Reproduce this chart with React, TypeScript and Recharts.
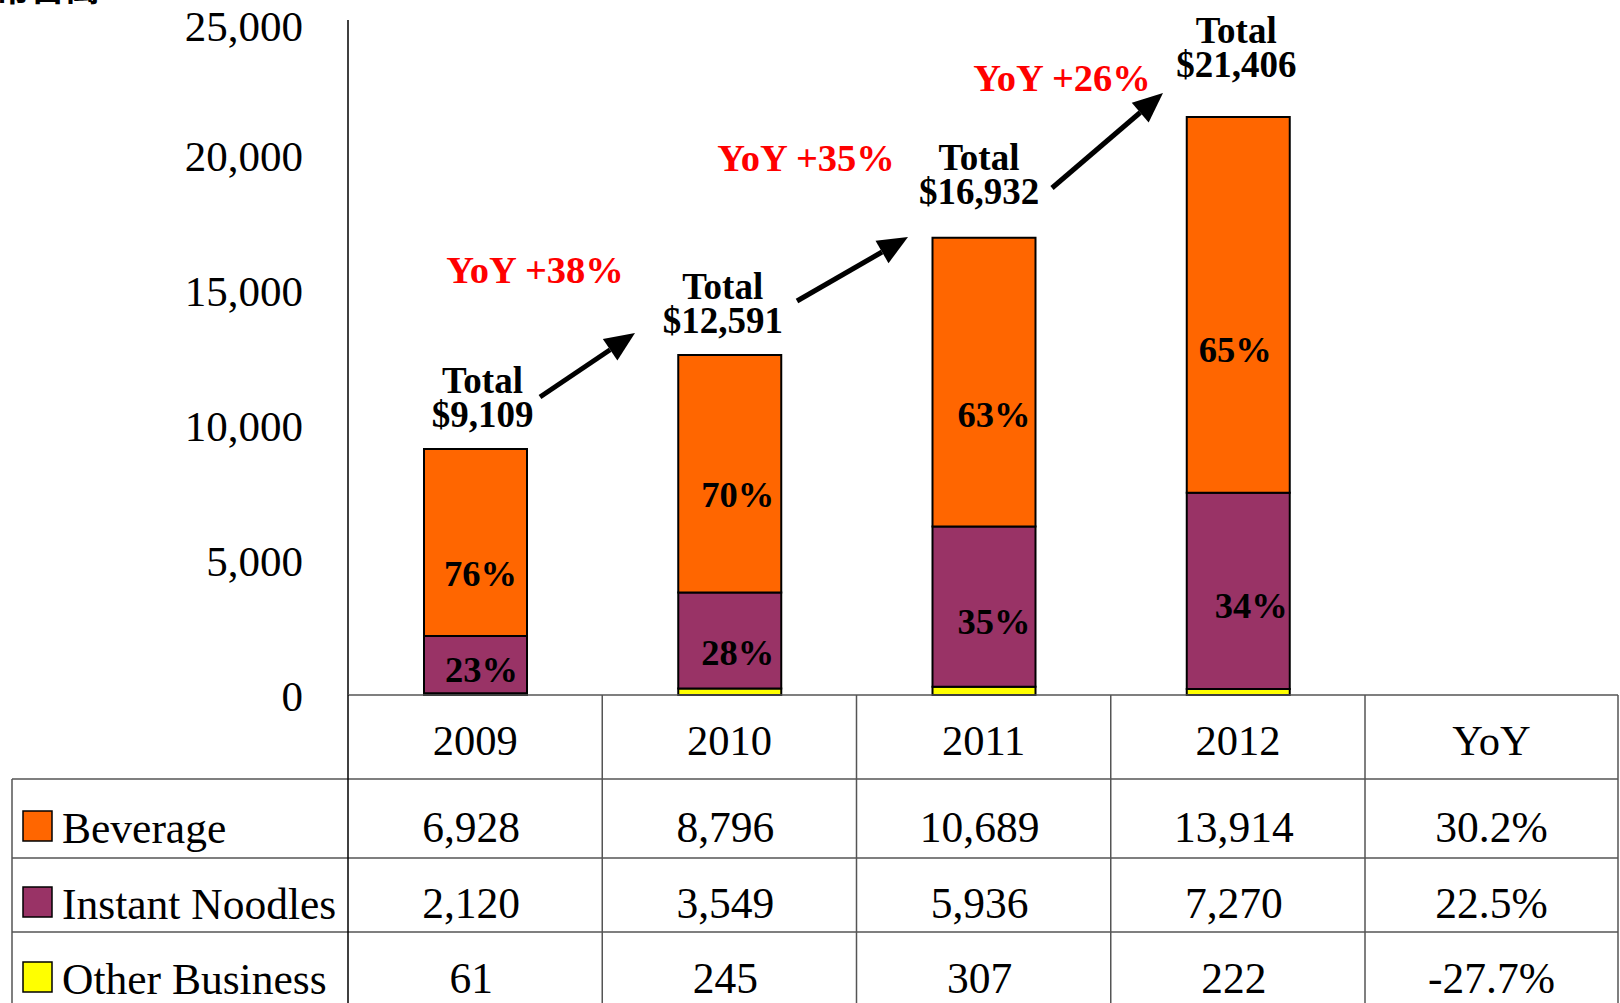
import { BarChart, Bar, XAxis, YAxis, LabelList } from 'recharts';

const years = ['2009', '2010', '2011', '2012'];
const beverage = [6928, 8796, 10689, 13914];
const instantNoodles = [2120, 3549, 5936, 7270];
const otherBusiness = [61, 245, 307, 222];
const totals = [9109, 12591, 16932, 21406];
const beverageShare = ['76%', '70%', '63%', '65%'];
const noodleShare = ['23%', '28%', '35%', '34%'];
const yoyTotals = ['YoY +38%', 'YoY +35%', 'YoY +26%'];
const yoyColumn = ['30.2%', '22.5%', '-27.7%'];
const yTicks = [0, 5000, 10000, 15000, 20000, 25000];

const rows = [
  { name: 'Beverage', color: '#FF6600', values: beverage },
  { name: 'Instant Noodles', color: '#993366', values: instantNoodles },
  { name: 'Other Business', color: '#FFFF00', values: otherBusiness },
];

const data = years.map((year, i) => ({
  year,
  beverage: beverage[i],
  noodles: instantNoodles[i],
  other: otherBusiness[i],
  total: totals[i],
}));

const SERIF = "'Times New Roman', 'Liberation Serif', serif";
const W = 1620;
const H = 1003;
const PLOT_LEFT = 348;
const PLOT_RIGHT = 1365;
const PLOT_BOTTOM = 695;
const BAND = (PLOT_RIGHT - PLOT_LEFT) / years.length;

// hand-placed label nudges (dx, dy from segment centre / bar top)
const bevNudge = [[5, 43], [8, 33], [10, 45], [-3, 57]];
const noodleNudge = [[6, 17], [8, 25], [10, 27], [13, 27]];
const totalNudge = [[7, 22], [-7, 22], [-5, 34], [-2, 40]];

// YoY call-outs between the totals
const yoyText = [
  { x: 535, y: 283 },
  { x: 806, y: 171 },
  { x: 1062, y: 91 },
];
const yoyArrows = [
  { x1: 540, y1: 397, x2: 635, y2: 333 },
  { x1: 797, y1: 301, x2: 908, y2: 237 },
  { x1: 1052, y1: 188, x2: 1163, y2: 93 },
];

const rowTop = [695, 779, 858, 932];
const rowBaseline = [755, 842, 918, 993];
const colLines = [PLOT_LEFT, PLOT_LEFT + BAND, PLOT_LEFT + 2 * BAND, PLOT_LEFT + 3 * BAND, PLOT_RIGHT, 1618];

function box(p: any) {
  const vb = p.viewBox || {};
  return {
    x: Number(p.x ?? vb.x),
    y: Number(p.y ?? vb.y),
    w: Number(p.width ?? vb.width),
    h: Number(p.height ?? vb.height),
  };
}

const ShareLabel = (labels: string[], nudge: number[][], series: number[]) => (p: any) => {
  const i = p.index ?? series.indexOf(p.value);
  const { x, y, w, h } = box(p);
  const [dx, dy] = nudge[i];
  return (
    <text
      x={x + w / 2 + dx}
      y={y + h / 2 + dy}
      textAnchor="middle"
      fontFamily={SERIF}
      fontWeight="bold"
      fontSize={36.5}
      fill="#000"
    >
      {labels[i]}
    </text>
  );
};

const TotalLabel = (p: any) => {
  const i = p.index ?? totals.indexOf(p.value);
  const { x, y, w } = box(p);
  const [dx, dy] = totalNudge[i];
  const cx = x + w / 2 + dx;
  const base = y - dy;
  return (
    <g fontFamily={SERIF} fontWeight="bold" fontSize={37} fill="#000" textAnchor="middle">
      <text x={cx} y={base - 34}>Total</text>
      <text x={cx} y={base}>${totals[i].toLocaleString('en-US')}</text>
    </g>
  );
};

const YearTick = ({ x, y, payload }: any) => (
  <text x={x} y={y + 60} textAnchor="middle" fontFamily={SERIF} fontSize={42.5} fill="#000">
    {payload.value}
  </text>
);

function Arrow({ x1, y1, x2, y2 }: { x1: number; y1: number; x2: number; y2: number }) {
  const len = Math.hypot(x2 - x1, y2 - y1);
  const ux = (x2 - x1) / len;
  const uy = (y2 - y1) / len;
  const bx = x2 - ux * 30;
  const by = y2 - uy * 30;
  const px = -uy * 13;
  const py = ux * 13;
  return (
    <g>
      <line x1={x1} y1={y1} x2={bx} y2={by} stroke="#000" strokeWidth={5} />
      <polygon points={`${x2},${y2} ${bx + px},${by + py} ${bx - px},${by - py}`} fill="#000" />
    </g>
  );
}

export default function App() {
  const lineColor = '#555';
  return (
    <div style={{ position: 'absolute', left: 0, top: 0, width: W, height: H, background: '#fff', overflow: 'hidden' }}>
      <BarChart
        width={W}
        height={H}
        data={data}
        margin={{ top: 20, right: W - PLOT_RIGHT, bottom: H - PLOT_BOTTOM - 84, left: 0 }}
        barSize={103}
      >
        <XAxis
          dataKey="year"
          axisLine={false}
          tickLine={false}
          tickSize={0}
          tickMargin={0}
          height={84}
          interval={0}
          tick={<YearTick />}
        />
        <YAxis
          width={PLOT_LEFT}
          domain={[0, 25000]}
          ticks={yTicks}
          axisLine={{ stroke: '#000', strokeWidth: 1.5 }}
          tickLine={false}
          tickSize={0}
          tickMargin={45}
          tickFormatter={(v: number) => v.toLocaleString('en-US')}
          tick={{ fontSize: 43, fill: '#000', fontFamily: SERIF, dy: 1 }}
        />
        <Bar dataKey="other" stackId="a" fill="#FFFF00" stroke="#000" strokeWidth={2} isAnimationActive={false} />
        <Bar dataKey="noodles" stackId="a" fill="#993366" stroke="#000" strokeWidth={2} isAnimationActive={false}>
          <LabelList dataKey="noodles" content={ShareLabel(noodleShare, noodleNudge, instantNoodles)} />
        </Bar>
        <Bar dataKey="beverage" stackId="a" fill="#FF6600" stroke="#000" strokeWidth={2} isAnimationActive={false}>
          <LabelList dataKey="beverage" content={ShareLabel(beverageShare, bevNudge, beverage)} />
          <LabelList dataKey="total" content={TotalLabel} />
        </Bar>
      </BarChart>

      <svg
        width={W}
        height={H}
        style={{ position: 'absolute', left: 0, top: 0, pointerEvents: 'none' }}
      >
        {/* unit caption, mostly cut off at the top edge */}
        <text x={100} y={1} textAnchor="end" fontSize={35} fontWeight="bold" fontFamily="'Noto Sans CJK TC', sans-serif" fill="#000">
          新台幣百萬
        </text>

        {/* YoY call-outs */}
        {yoyTotals.map((t, i) => (
          <text
            key={t}
            x={yoyText[i].x}
            y={yoyText[i].y}
            textAnchor="middle"
            fontFamily={SERIF}
            fontWeight="bold"
            fontSize={38.5}
            fill="#FF0000"
          >
            {t}
          </text>
        ))}
        {yoyArrows.map((a, i) => (
          <Arrow key={i} {...a} />
        ))}

        {/* data table grid */}
        <line x1={PLOT_LEFT} y1={rowTop[0]} x2={1618} y2={rowTop[0]} stroke={lineColor} strokeWidth={1.5} />
        {rowTop.slice(1).map((y) => (
          <line key={y} x1={12} y1={y} x2={1618} y2={y} stroke={lineColor} strokeWidth={1.5} />
        ))}
        <line x1={12} y1={rowTop[1]} x2={12} y2={H} stroke={lineColor} strokeWidth={1.5} />
        {colLines.map((x) => (
          <line key={x} x1={x} y1={rowTop[0]} x2={x} y2={H} stroke={x === PLOT_LEFT ? '#000' : lineColor} strokeWidth={1.5} />
        ))}

        <text x={(PLOT_RIGHT + 1618) / 2} y={rowBaseline[0]} textAnchor="middle" fontFamily={SERIF} fontSize={42.5} fill="#000">
          YoY
        </text>

        {rows.map((r, ri) => (
          <g key={r.name} fontFamily={SERIF} fontSize={43.5} fill="#000">
            <rect x={23} y={rowBaseline[ri + 1] - 31} width={29} height={30} fill={r.color} stroke="#000" strokeWidth={1.5} />
            <text x={62} y={rowBaseline[ri + 1] + 1}>{r.name}</text>
            {r.values.map((v, ci) => (
              <text key={ci} x={PLOT_LEFT + BAND * (ci + 0.5) - 4} y={rowBaseline[ri + 1]} textAnchor="middle">
                {v.toLocaleString('en-US')}
              </text>
            ))}
            <text x={(PLOT_RIGHT + 1618) / 2} y={rowBaseline[ri + 1]} textAnchor="middle">
              {yoyColumn[ri]}
            </text>
          </g>
        ))}
      </svg>
    </div>
  );
}
